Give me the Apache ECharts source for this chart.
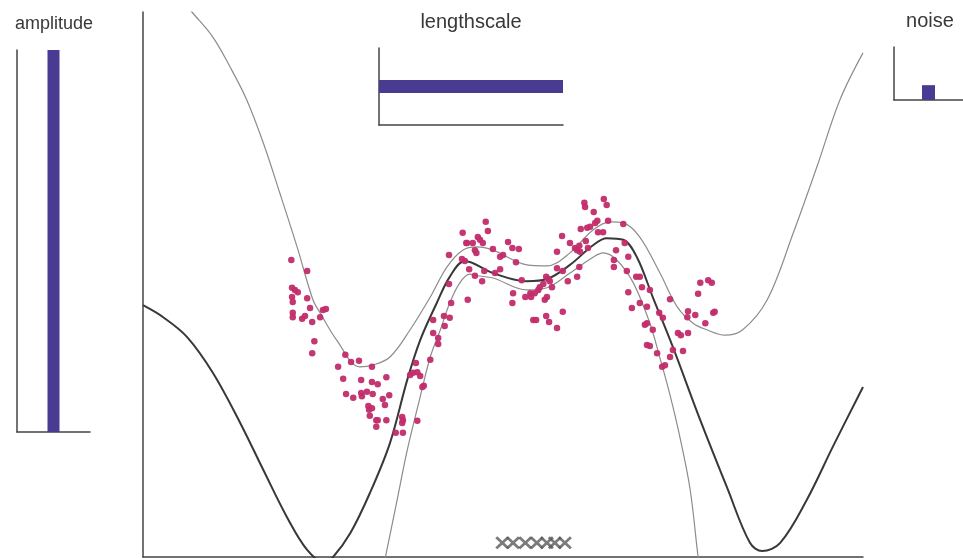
<!DOCTYPE html>
<html>
<head>
<meta charset="utf-8">
<script src="https://cdn.jsdelivr.net/npm/echarts@6/dist/echarts.min.js"></script>
<style>
html,body{margin:0;padding:0;background:#fff;}
#c{width:963px;height:560px;}
</style>
</head>
<body>
<div id="c"></div>
<script>
// ---- data ----
var meanCurve = [
  [0.00,4.62],[0.28,4.40],[0.61,4.04],[0.97,3.38],[1.35,2.46],[1.67,1.60],[2.00,0.73],
  [2.28,0.13],[2.52,-0.10],[2.64,0.00],[2.88,0.44],[3.15,1.17],[3.43,2.09],[3.67,3.25],
  [3.85,3.98],[4.08,4.66],[4.26,5.14],[4.47,5.43],[4.86,5.21],[5.33,5.06],[5.61,5.10],
  [5.93,5.36],[6.25,5.72],[6.44,5.85],[6.67,5.82],[6.86,5.50],[7.08,4.77],[7.36,3.85],
  [7.74,2.51],[8.11,1.28],[8.43,0.26],[8.60,0.11],[8.85,0.26],[9.22,1.05],[9.58,2.02],[10.00,3.12]
];
var upperCurve = [
  [0.55,10.21],[0.68,10.00],[0.97,9.54],[1.21,8.99],[1.44,8.39],[1.67,7.60],[1.90,6.68],
  [2.14,5.69],[2.36,4.72],[2.46,4.48],[2.69,3.98],[3.01,3.49],[3.19,3.52],[3.43,3.67],
  [3.71,4.17],[3.99,4.77],[4.22,5.32],[4.44,5.63],[4.64,5.69],[4.86,5.63],[5.33,5.36],
  [5.61,5.34],[5.93,5.58],[6.25,6.00],[6.49,6.15],[6.67,6.13],[6.90,5.87],[7.18,5.21],
  [7.42,4.59],[7.64,4.29],[7.83,4.17],[8.08,4.07],[8.33,4.17],[8.67,4.72],[9.03,5.94],
  [9.36,7.16],[9.68,8.39],[10.00,9.25]
];
var lowerCurve = [
  [3.33,-0.24],[3.53,1.05],[3.67,1.96],[3.85,2.94],[3.99,3.67],[4.13,4.17],[4.26,4.66],
  [4.40,5.03],[4.54,5.19],[4.64,5.16],[4.86,5.12],[5.33,4.90],[5.61,4.94],[5.93,5.21],
  [6.25,5.50],[6.39,5.58],[6.58,5.45],[6.81,5.03],[7.04,4.29],[7.18,3.65],[7.32,2.97],
  [7.46,2.18],[7.60,1.23],[7.71,0.00],[7.74,-0.24]
];
var observations = [
  [2.06,5.45],[2.28,5.25],[2.07,4.94],[2.11,4.90],[2.15,4.86],[2.07,4.77],[2.08,4.68],[2.28,4.75],
  [2.32,4.57],[2.08,4.48],[2.08,4.40],[2.21,4.37],[2.25,4.42],[2.35,4.31],[2.46,4.40],[2.50,4.53],
  [2.54,4.55],[2.38,3.96],[2.35,3.74],[2.81,3.71],[2.89,3.58],[3.00,3.60],[2.71,3.49],[3.18,3.49],
  [2.78,3.27],[3.03,3.25],[3.18,3.21],[3.26,3.17],[3.38,3.30],[2.82,2.99],[2.92,2.92],[3.03,3.01],
  [3.04,2.95],[3.11,3.03],[3.19,2.99],[3.42,2.97],[3.33,2.90],[3.36,2.79],[3.13,2.77],[3.14,2.70],
  [3.18,2.73],[3.15,2.59],[3.24,2.51],[3.26,2.51],[3.24,2.39],[3.38,2.51],[3.60,2.57],[3.61,2.51],
  [3.60,2.46],[3.51,2.28],[3.61,2.28],[3.81,2.50],[3.79,3.56],[3.71,3.34],[3.75,3.38],[3.81,3.39],
  [3.85,3.32],[3.88,3.12],[3.90,3.14],[3.99,3.62],[4.03,4.35],[4.03,4.11],[4.10,4.02],[4.10,3.91],
  [4.19,4.24],[4.18,4.42],[4.26,4.39],[4.28,4.66],[4.25,5.01],[4.25,5.54],[4.44,5.95],[4.49,5.76],
  [4.43,5.47],[4.47,5.43],[4.53,5.28],[4.51,4.72],[4.76,6.15],[4.79,5.98],[4.50,5.76],[4.58,5.76],
  [4.65,5.87],[4.68,5.82],[4.72,5.76],[4.61,5.63],[4.63,5.58],[4.86,5.65],[4.96,5.51],[5.00,5.54],
  [5.07,5.78],[5.13,5.67],[5.22,5.65],[5.18,5.41],[4.74,5.25],[4.89,5.21],[4.61,5.16],[4.71,5.06],
  [4.96,5.28],[5.26,5.08],[5.14,4.84],[5.13,4.66],[5.31,4.77],[5.38,4.84],[5.39,4.77],[5.44,4.84],
  [5.51,4.95],[5.49,4.90],[5.60,5.14],[5.63,5.10],[5.56,5.01],[5.68,4.95],[5.58,4.72],[5.61,4.77],
  [5.65,5.06],[5.82,5.89],[5.75,5.60],[5.75,5.30],[5.83,5.25],[5.90,5.06],[5.93,5.76],[6.03,5.14],
  [6.00,5.67],[6.03,5.63],[6.06,5.71],[6.07,5.60],[6.08,6.02],[6.06,5.32],[6.17,6.04],[6.21,6.06],
  [6.15,5.80],[6.13,6.50],[6.14,6.42],[6.26,6.33],[6.28,6.13],[6.31,6.17],[6.32,5.96],[6.39,5.96],
  [6.40,6.57],[6.44,6.46],[6.46,6.17],[6.67,6.11],[6.18,5.67],[5.83,4.50],[5.42,4.35],[5.46,4.35],
  [5.60,4.42],[5.64,4.31],[5.75,4.20],[6.54,5.45],[6.54,5.32],[6.57,5.63],[6.69,5.76],[6.74,5.51],
  [6.85,5.14],[6.90,5.14],[6.72,5.25],[6.74,4.86],[6.79,4.57],[6.93,4.95],[6.90,4.66],[7.00,4.59],
  [7.04,4.90],[6.97,4.26],[7.00,4.29],[7.08,4.17],[7.17,4.48],[7.22,4.39],[7.32,4.73],[7.00,3.89],
  [7.04,3.87],[7.14,3.74],[7.21,3.49],[7.25,3.52],[7.32,3.67],[7.36,3.80],[7.43,4.11],[7.47,4.07],
  [7.57,4.11],[7.50,3.78],[7.57,4.51],[7.56,4.40],[7.67,4.44],[7.81,4.29],[7.71,4.83],[7.74,5.03],
  [7.85,5.08],[7.90,5.03],[7.92,4.48],[7.94,4.50]
];
var inducingX = [4.99, 5.14, 5.31, 5.47, 5.61, 5.72, 5.86];
var inducingY = 0.26;
var amplitudeValue = [1];
var lengthscaleValue = [1];
var noiseValue = [0.28];
var hyperCategory = ['value'];

var inducingPoints = inducingX.map(function (x) { return [x, inducingY]; });

var axisLine = { show: true, lineStyle: { color: '#444444', width: 1.5 } };
function plainValueAxis(idx, min, max) {
  return { type: 'value', gridIndex: idx, min: min, max: max,
    axisLine: axisLine, axisTick: { show: false }, axisLabel: { show: false },
    splitLine: { show: false } };
}
function plainCatAxis(idx) {
  return { type: 'category', gridIndex: idx, data: hyperCategory,
    axisLine: axisLine, axisTick: { show: false }, axisLabel: { show: false },
    splitLine: { show: false } };
}

var barColor = '#4a3b92';
var crossPath = 'path://M0,2L2,0L7,5L12,0L14,2L9,7L14,12L12,14L7,9L2,14L0,12L5,7Z';
var titleFont = '"Liberation Sans", Arial, sans-serif';

var chart = echarts.init(document.getElementById('c'), null, { renderer: 'canvas' });
chart.setOption({
  animation: false,
  backgroundColor: '#ffffff',
  textStyle: { fontFamily: 'Liberation Sans, Arial, sans-serif' },
  grid: [
    { left: 143, top: 12, width: 720, height: 545 },
    { left: 17, top: 50, width: 73, height: 382 },
    { left: 379, top: 48, width: 184, height: 77 },
    { left: 894, top: 47, width: 73, height: 53 }
  ],
  xAxis: [
    plainValueAxis(0, 0, 10),
    plainCatAxis(1),
    plainValueAxis(2, 0, 1),
    plainCatAxis(3)
  ],
  yAxis: [
    plainValueAxis(0, 0, 10),
    plainValueAxis(1, 0, 1),
    plainCatAxis(2),
    plainValueAxis(3, 0, 1)
  ],
  graphic: [
    { type: 'text', x: 54, y: 24.5, style: { text: 'amplitude', fill: '#383838', font: '18px ' + titleFont, textAlign: 'center', textVerticalAlign: 'middle' } },
    { type: 'text', x: 471, y: 22.5, style: { text: 'lengthscale', fill: '#383838', font: '20px ' + titleFont, textAlign: 'center', textVerticalAlign: 'middle' } },
    { type: 'text', x: 930, y: 21.5, style: { text: 'noise', fill: '#383838', font: '20px ' + titleFont, textAlign: 'center', textVerticalAlign: 'middle' } }
  ],
  series: [
    { type: 'line', xAxisIndex: 0, yAxisIndex: 0, data: upperCurve, smooth: 0.35, showSymbol: false,
      lineStyle: { color: '#8c8c8c', width: 1.2 }, clip: true, z: 2 },
    { type: 'line', xAxisIndex: 0, yAxisIndex: 0, data: lowerCurve, smooth: 0.35, showSymbol: false,
      lineStyle: { color: '#8c8c8c', width: 1.2 }, clip: true, z: 2 },
    { type: 'line', xAxisIndex: 0, yAxisIndex: 0, data: meanCurve, smooth: 0.35, showSymbol: false,
      lineStyle: { color: '#383838', width: 2 }, clip: true, z: 3 },
    { type: 'scatter', xAxisIndex: 0, yAxisIndex: 0, data: observations, symbolSize: 6.5,
      itemStyle: { color: '#c22c6a', opacity: 0.95 }, z: 4 },
    { type: 'scatter', xAxisIndex: 0, yAxisIndex: 0, data: inducingPoints, symbol: crossPath,
      symbolSize: [14, 13], itemStyle: { color: '#5a5a5a' }, z: 5 },
    { type: 'bar', xAxisIndex: 1, yAxisIndex: 1, data: amplitudeValue, barWidth: 12,
      itemStyle: { color: barColor } },
    { type: 'bar', xAxisIndex: 2, yAxisIndex: 2, data: lengthscaleValue, barWidth: 13,
      itemStyle: { color: barColor } },
    { type: 'bar', xAxisIndex: 3, yAxisIndex: 3, data: noiseValue, barWidth: 13,
      itemStyle: { color: barColor } }
  ]
});
</script>
</body>
</html>
